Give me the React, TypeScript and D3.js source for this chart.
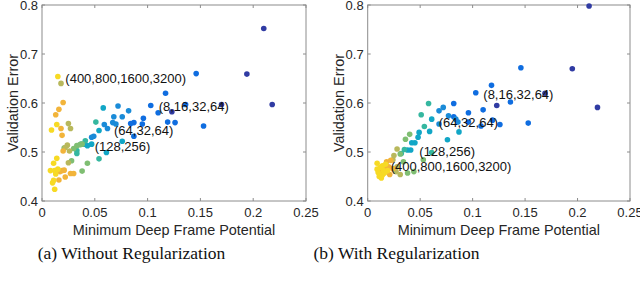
import React from "react";
import * as d3 from "d3";

// colour level: 0 dark blue ... 1 yellow (parula)
const leftPoints: [number, number, number][] = [
  [0.210, 0.752, 0.02], [0.194, 0.659, 0.02], [0.218, 0.597, 0.02], [0.123, 0.582, 0.02], [0.170, 0.597, 0.02],
  [0.146, 0.660, 0.15], [0.117, 0.620, 0.15], [0.103, 0.595, 0.15], [0.136, 0.597, 0.15], [0.110, 0.580, 0.15],
  [0.153, 0.553, 0.15], [0.126, 0.560, 0.15], [0.119, 0.561, 0.15], [0.096, 0.569, 0.15], [0.095, 0.557, 0.15],
  [0.087, 0.560, 0.15], [0.084, 0.558, 0.15], [0.087, 0.532, 0.15],
  [0.082, 0.584, 0.25], [0.076, 0.572, 0.25], [0.068, 0.572, 0.25], [0.072, 0.594, 0.25], [0.067, 0.560, 0.25],
  [0.070, 0.557, 0.25], [0.062, 0.548, 0.25], [0.059, 0.556, 0.25], [0.049, 0.532, 0.25], [0.047, 0.530, 0.25],
  [0.058, 0.590, 0.38], [0.076, 0.522, 0.38], [0.061, 0.499, 0.38], [0.054, 0.544, 0.38], [0.047, 0.516, 0.38],
  [0.040, 0.516, 0.38], [0.043, 0.513, 0.38],
  [0.051, 0.561, 0.5], [0.054, 0.486, 0.5], [0.041, 0.523, 0.5], [0.037, 0.516, 0.5], [0.033, 0.503, 0.5], [0.033, 0.497, 0.5],
  [0.033, 0.513, 0.62], [0.036, 0.515, 0.62], [0.038, 0.516, 0.62], [0.030, 0.507, 0.62], [0.043, 0.477, 0.62],
  [0.038, 0.461, 0.62], [0.021, 0.508, 0.62], [0.028, 0.482, 0.62],
  [0.025, 0.558, 0.72], [0.027, 0.548, 0.72], [0.018, 0.640, 0.72], [0.024, 0.514, 0.72], [0.025, 0.478, 0.72],
  [0.026, 0.502, 0.72], [0.022, 0.509, 0.72],
  [0.020, 0.601, 0.85], [0.016, 0.587, 0.85], [0.013, 0.576, 0.85], [0.018, 0.548, 0.85], [0.019, 0.534, 0.85],
  [0.020, 0.502, 0.85], [0.019, 0.462, 0.85], [0.017, 0.460, 0.85], [0.027, 0.456, 0.85], [0.030, 0.456, 0.85],
  [0.022, 0.449, 0.85], [0.016, 0.443, 0.85], [0.021, 0.463, 0.85],
  [0.015, 0.654, 0.97], [0.009, 0.545, 0.97], [0.014, 0.556, 0.97], [0.008, 0.462, 0.97], [0.012, 0.462, 0.97],
  [0.015, 0.465, 0.97], [0.011, 0.477, 0.97], [0.014, 0.487, 0.97], [0.011, 0.442, 0.97], [0.010, 0.437, 0.97],
  [0.012, 0.424, 0.97], [0.013, 0.455, 0.97],
];

const rightPoints: [number, number, number][] = [
  [0.211, 0.798, 0.02], [0.195, 0.670, 0.02], [0.219, 0.591, 0.02], [0.123, 0.595, 0.02], [0.169, 0.620, 0.02],
  [0.146, 0.672, 0.15], [0.118, 0.636, 0.15], [0.103, 0.621, 0.15], [0.136, 0.602, 0.15], [0.110, 0.586, 0.15],
  [0.153, 0.559, 0.15], [0.126, 0.556, 0.15], [0.119, 0.565, 0.15], [0.108, 0.553, 0.15], [0.096, 0.580, 0.15],
  [0.096, 0.561, 0.15], [0.082, 0.572, 0.15], [0.082, 0.599, 0.15],
  [0.072, 0.591, 0.25], [0.068, 0.584, 0.25], [0.077, 0.574, 0.25], [0.068, 0.557, 0.25], [0.086, 0.561, 0.25], [0.084, 0.567, 0.25],
  [0.087, 0.541, 0.38], [0.076, 0.525, 0.38], [0.061, 0.567, 0.38], [0.059, 0.542, 0.38], [0.049, 0.540, 0.38],
  [0.048, 0.530, 0.38], [0.045, 0.519, 0.38], [0.041, 0.504, 0.38], [0.038, 0.504, 0.38], [0.042, 0.519, 0.38],
  [0.058, 0.599, 0.5], [0.054, 0.552, 0.5], [0.051, 0.576, 0.5], [0.061, 0.499, 0.5], [0.035, 0.505, 0.5], [0.032, 0.497, 0.5],
  [0.040, 0.536, 0.62], [0.036, 0.526, 0.62], [0.053, 0.484, 0.62], [0.044, 0.460, 0.62], [0.038, 0.457, 0.62],
  [0.031, 0.496, 0.62], [0.034, 0.480, 0.62],
  [0.028, 0.506, 0.72], [0.025, 0.493, 0.72], [0.031, 0.454, 0.72], [0.027, 0.460, 0.72], [0.024, 0.484, 0.72], [0.028, 0.470, 0.72],
  [0.021, 0.454, 0.85], [0.018, 0.480, 0.85], [0.022, 0.483, 0.85], [0.016, 0.467, 0.85], [0.024, 0.466, 0.85],
  [0.013, 0.460, 0.85], [0.020, 0.470, 0.85],
  [0.009, 0.477, 0.97], [0.009, 0.465, 0.97], [0.011, 0.450, 0.97], [0.014, 0.472, 0.97], [0.015, 0.462, 0.97],
  [0.014, 0.453, 0.97], [0.017, 0.475, 0.97], [0.019, 0.462, 0.97], [0.012, 0.469, 0.97], [0.010, 0.458, 0.97],
  [0.016, 0.457, 0.97], [0.013, 0.447, 0.97],
];

// label text, x (start), y (vertical middle)
const leftLabels: [string, number, number][] = [
  ["(400,800,1600,3200)", 0.0221, 0.6495],
  ["(8,16,32,64)", 0.1105, 0.5925],
  ["(64,32,64)", 0.0682, 0.545],
  ["(128,256)", 0.0499, 0.5112],
];
const rightLabels: [string, number, number][] = [
  ["(8,16,32,64)", 0.1102, 0.6183],
  ["(64,32,64)", 0.0677, 0.5614],
  ["(128,256)", 0.0492, 0.5003],
  ["(400,800,1600,3200)", 0.0219, 0.4705],
];

const xTicks = [0, 0.05, 0.1, 0.15, 0.2, 0.25];
const yTicks = [0.4, 0.5, 0.6, 0.7, 0.8];
const xTickLabels = ["0", "0.05", "0.1", "0.15", "0.2", "0.25"];
const yTickLabels = ["0.4", "0.5", "0.6", "0.7", "0.8"];
const captions = ["(a) Without Regularization", "(b) With Regularization"];

const parula = d3
  .scaleLinear<string>()
  .domain([0, 0.15, 0.25, 0.38, 0.5, 0.62, 0.72, 0.85, 1])
  .range(["#35339a", "#0f6de0", "#1a8bd8", "#11a6c6", "#35b7a0", "#7fbe72", "#b8b85c", "#f2b43a", "#f8e41e"])
  .interpolate(d3.interpolateRgb);

const FONT = "'Liberation Sans', Arial, Helvetica, sans-serif";

function Panel({ x0, x1, points, labels, caption, capX, yTitleX }: any) {
  const x = d3.scaleLinear().domain([0, 0.25]).range([x0, x1]);
  const y = d3.scaleLinear().domain([0.4, 0.8]).range([201, 5]);
  const tl = 3;
  const axisCol = "#8c8c8c";
  const txtCol = "#262626";
  return (
    <g>
      <rect x={x0} y={y(0.8)} width={x1 - x0} height={y(0.4) - y(0.8)} fill="white" stroke={axisCol} strokeWidth={1} />
      {xTicks.map((t) => (
        <g key={"xt" + t}>
          <line x1={x(t)} x2={x(t)} y1={y(0.4)} y2={y(0.4) - tl} stroke={axisCol} />
          <line x1={x(t)} x2={x(t)} y1={y(0.8)} y2={y(0.8) + tl} stroke={axisCol} />
        </g>
      ))}
      {yTicks.map((t) => (
        <g key={"yt" + t}>
          <line x1={x0} x2={x0 + tl} y1={y(t)} y2={y(t)} stroke={axisCol} />
          <line x1={x1} x2={x1 - tl} y1={y(t)} y2={y(t)} stroke={axisCol} />
        </g>
      ))}
      {xTicks.map((t, i) => (
        <text key={"xl" + t} x={x(t)} y={217} textAnchor="middle" fontSize={13} fill={txtCol} fontFamily={FONT}>
          {xTickLabels[i]}
        </text>
      ))}
      {yTicks.map((t, i) => (
        <text key={"yl" + t} x={x0 - 4} y={y(t) + 4.5} textAnchor="end" fontSize={13} fill={txtCol} fontFamily={FONT}>
          {yTickLabels[i]}
        </text>
      ))}
      <text x={(x0 + x1) / 2} y={235} textAnchor="middle" fontSize={14.4} fill={txtCol} fontFamily={FONT}>
        Minimum Deep Frame Potential
      </text>
      <text
        transform={`translate(${yTitleX},${(y(0.4) + y(0.8)) / 2}) rotate(-90)`}
        textAnchor="middle"
        fontSize={14.4}
        fill={txtCol}
        fontFamily={FONT}
      >
        Validation Error
      </text>
      {points.map((p: number[], i: number) => (
        <circle key={i} cx={x(p[0])} cy={y(p[1])} r={2.8} fill={parula(p[2])} />
      ))}
      {labels.map((l: any, i: number) => (
        <text key={"lb" + i} x={x(l[1])} y={y(l[2]) + 4.6} fontSize={13} fill="#111" fontFamily={FONT}>
          {l[0]}
        </text>
      ))}
      <text x={capX} y={259} textAnchor="middle" fontSize={17.5} fill="#111" fontFamily="'Liberation Serif', 'Times New Roman', serif">
        {caption}
      </text>
    </g>
  );
}

export default function App() {
  return (
    <svg width={640} height={308} style={{ position: "absolute", left: 0, top: 0, background: "white" }}>
      <rect width={640} height={308} fill="white" />
      <Panel x0={42} x1={306} points={leftPoints} labels={leftLabels} caption={captions[0]} capX={131.5} yTitleX={18} />
      <Panel x0={367.7} x1={630} points={rightPoints} labels={rightLabels} caption={captions[1]} capX={396.5} yTitleX={344} />
    </svg>
  );
}
